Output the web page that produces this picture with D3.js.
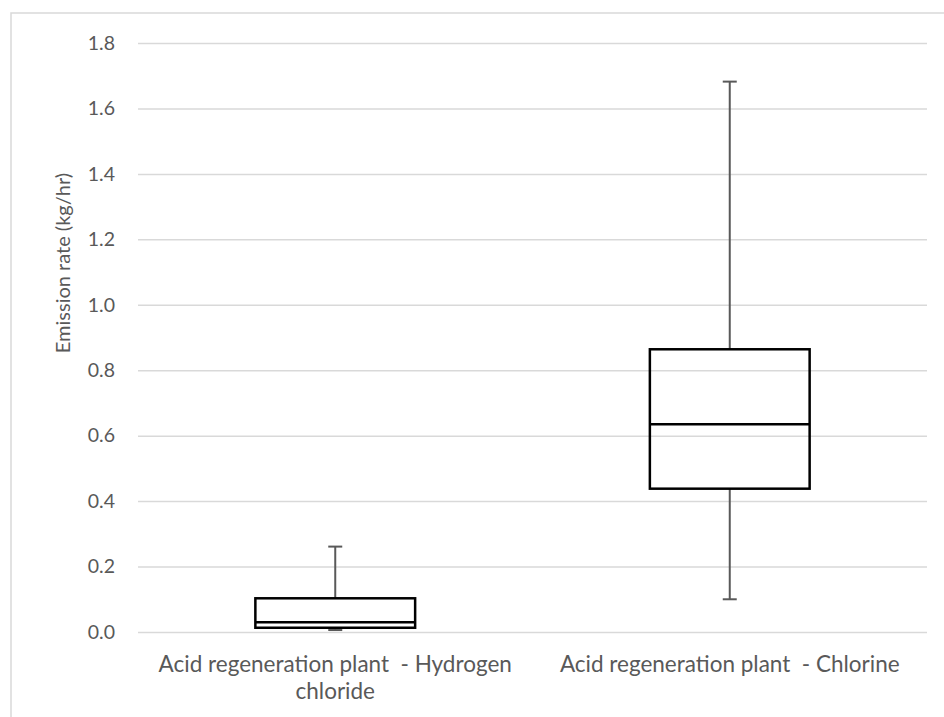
<!DOCTYPE html>
<html>
<head>
<meta charset="utf-8">
<script src="https://cdn.jsdelivr.net/npm/d3@7"></script>
<style>
  html, body { margin: 0; padding: 0; background: #fff; }
  svg { display: block; }
  text { font-family: Lato, "Open Sans", "Liberation Sans", sans-serif; fill: #595959; white-space: pre; }
</style>
</head>
<body>
<svg id="chart" width="944" height="717"></svg>
<script>
// Box plot summary per source (kg/hr)
const categories = [
  ["Acid regeneration plant  - Hydrogen", "chloride"],
  ["Acid regeneration plant  - Chlorine"]
];
const minValues    = [0.006, 0.10];
const q1Values     = [0.013, 0.438];
const medianValues = [0.030, 0.635];
const q3Values     = [0.103, 0.864];
const maxValues    = [0.261, 1.682];
const yTicks = [0, 0.2, 0.4, 0.6, 0.8, 1.0, 1.2, 1.4, 1.6, 1.8];
const yTitle = "Emission rate (kg/hr)";

const svg = d3.select("#chart");
const W = 944, H = 717;
const plot = { left: 138, right: 927, top: 43, bottom: 632 };

// chart area frame
svg.append("rect")
  .attr("x", 11).attr("y", 13)
  .attr("width", W + 20).attr("height", H + 20)
  .attr("fill", "#fff").attr("stroke", "#d9d9d9").attr("stroke-width", 1.5);

const keys = categories.map((c, i) => i);
const x = d3.scaleBand().domain(keys).range([plot.left, plot.right]).paddingInner(0).paddingOuter(0);
const y = d3.scaleLinear().domain([0, 1.8]).range([plot.bottom, plot.top]);

// gridlines + tick labels via axis
const yAxis = d3.axisLeft(y).tickValues(yTicks).tickFormat(d3.format(".1f"))
  .tickSize(-(plot.right - plot.left)).tickPadding(23);
const gy = svg.append("g").attr("transform", `translate(${plot.left},0)`).call(yAxis);
gy.select(".domain").remove();
gy.selectAll(".tick line").attr("stroke", "#d9d9d9").attr("stroke-width", 1.5);
gy.selectAll(".tick text").attr("font-size", 19.5).attr("fill", "#595959")
  .style("font-family", "Lato, 'Open Sans', sans-serif");

// y axis title
svg.append("text")
  .attr("transform", `translate(70,263) rotate(-90)`)
  .attr("text-anchor", "middle")
  .attr("font-size", 20)
  .text(yTitle);

// category labels
const xLabels = svg.append("g");
categories.forEach((lines, i) => {
  const cx = x(i) + x.bandwidth() / 2;
  const t = xLabels.append("text").attr("text-anchor", "middle").attr("font-size", 22.5);
  lines.forEach((ln, j) => {
    t.append("tspan").attr("x", cx).attr("y", 672 + j * 27).text(ln);
  });
});

// boxes
const boxW = x.bandwidth() * 0.405;
const capW = 14;
const g = svg.append("g");
keys.forEach(i => {
  const cx = x(i) + x.bandwidth() / 2;
  // upper whisker
  g.append("line").attr("x1", cx).attr("x2", cx)
    .attr("y1", y(q3Values[i])).attr("y2", y(maxValues[i]))
    .attr("stroke", "#595959").attr("stroke-width", 2);
  g.append("line").attr("x1", cx - capW / 2).attr("x2", cx + capW / 2)
    .attr("y1", y(maxValues[i])).attr("y2", y(maxValues[i]))
    .attr("stroke", "#595959").attr("stroke-width", 2);
  // lower whisker
  g.append("line").attr("x1", cx).attr("x2", cx)
    .attr("y1", y(q1Values[i])).attr("y2", y(minValues[i]))
    .attr("stroke", "#595959").attr("stroke-width", 2);
  g.append("line").attr("x1", cx - capW / 2).attr("x2", cx + capW / 2)
    .attr("y1", y(minValues[i])).attr("y2", y(minValues[i]))
    .attr("stroke", "#595959").attr("stroke-width", 2);
  // box
  g.append("rect")
    .attr("x", cx - boxW / 2).attr("width", boxW)
    .attr("y", y(q3Values[i])).attr("height", y(q1Values[i]) - y(q3Values[i]))
    .attr("fill", "none").attr("stroke", "#000").attr("stroke-width", 2.5);
  // median
  g.append("line").attr("x1", cx - boxW / 2).attr("x2", cx + boxW / 2)
    .attr("y1", y(medianValues[i])).attr("y2", y(medianValues[i]))
    .attr("stroke", "#000").attr("stroke-width", 2.5);
});
</script>
</body>
</html>
